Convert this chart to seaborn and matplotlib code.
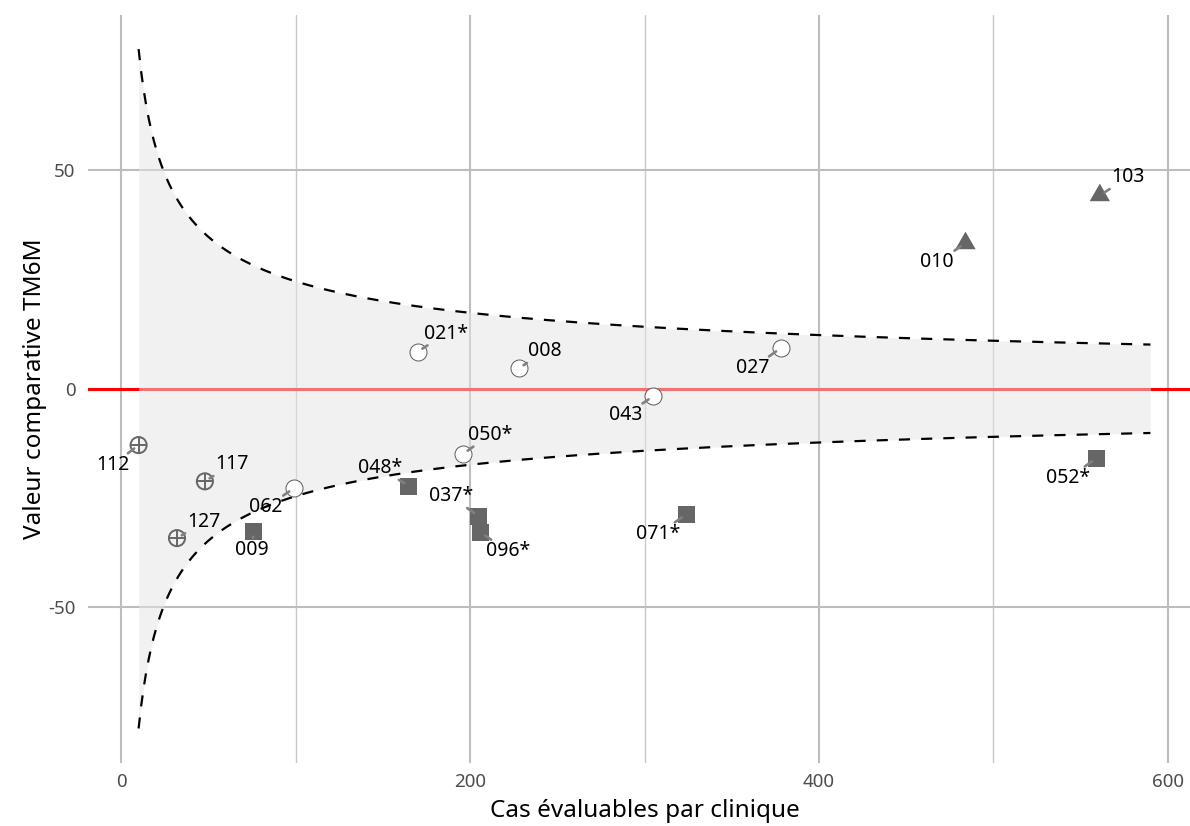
import numpy as np
import pandas as pd
import matplotlib
matplotlib.use("Agg")
import matplotlib.pyplot as plt
from matplotlib.path import Path
import seaborn as sns

# Données par clinique
cliniques = ["112", "117", "127", "062", "009", "048*", "050*", "037*", "096*",
             "071*", "021*", "008", "043", "027", "010", "103", "052*"]
cas = [10, 48, 32, 99, 76, 165, 196, 205, 206, 324, 170, 228, 305, 378, 484, 561, 559]
valeurs = [-12.9, -21.2, -34.2, -22.8, -32.6, -22.3, -14.9, -29.2, -32.9, -28.7,
           8.5, 4.7, -1.7, 9.3, 33.3, 44.3, -15.9]
statut = ["petit", "petit", "petit", "dans", "bas", "bas", "dans", "bas", "bas",
          "bas", "dans", "dans", "dans", "dans", "haut", "haut", "bas"]

# Limites de contrôle de l'entonnoir : +/- coef / sqrt(n)
coef_limite = 246
n_min, n_max = 10, 590

df = pd.DataFrame({"clinique": cliniques, "cas": cas, "valeur": valeurs, "statut": statut})

n = np.linspace(n_min, n_max, 400)
lim_haut = coef_limite / np.sqrt(n)
funnel = pd.DataFrame({"n": n, "haut": lim_haut, "bas": -lim_haut})

sns.set_theme(style="whitegrid")
plt.rcParams["font.family"] = ["Noto Sans", "DejaVu Sans"]
plt.rcParams["axes.unicode_minus"] = False

fig = plt.figure(figsize=(11.9, 8.26), dpi=100)
ax = fig.add_axes([88 / 1190, 1 - 763 / 826, (1201 - 88) / 1190, (763 - 15) / 826])

ax.set_xlim(-19, 619)
ax.set_ylim(-85.7, 85.6)

# Grille
ax.set_xticks([0, 200, 400, 600])
ax.set_xticks([100, 300, 500], minor=True)
ax.set_yticks([-50, 0, 50])
ax.grid(True, which="major", color="#BDBDBD", linewidth=1.5)
ax.grid(True, which="minor", axis="x", color="#C8C8C8", linewidth=1.0)
ax.set_axisbelow(True)
for s in ax.spines.values():
    s.set_visible(False)
ax.tick_params(axis="both", which="both", length=0, labelsize=13.5, labelcolor="#4D4D4D")
ax.tick_params(axis="x", pad=7)
ax.tick_params(axis="y", pad=9)

# Ligne de référence
ax.axhline(0, color="#FF0000", linewidth=2.2, zorder=1)

# Zone entre les limites
ax.fill_between(funnel["n"], funnel["bas"], funnel["haut"], color="#E5E5E5", alpha=0.5,
                linewidth=0, zorder=2)
sns.lineplot(data=funnel, x="n", y="haut", ax=ax, color="black", linewidth=1.6,
             linestyle=(0, (5, 5)), zorder=3)
sns.lineplot(data=funnel, x="n", y="bas", ax=ax, color="black", linewidth=1.6,
             linestyle=(0, (5, 5)), zorder=3)

gris = "#666666"
triangle = Path([(0, 1), (-0.866, -0.5), (0.866, -0.5), (0, 1)],
                [Path.MOVETO, Path.LINETO, Path.LINETO, Path.CLOSEPOLY])

sns.scatterplot(data=df[df.statut == "bas"], x="cas", y="valeur", ax=ax, marker="s",
                s=150, color=gris, edgecolor="none", linewidth=0, zorder=4)
sns.scatterplot(data=df[df.statut == "haut"], x="cas", y="valeur", ax=ax, marker=triangle,
                s=285, color=gris, edgecolor="none", linewidth=0, zorder=4)
sns.scatterplot(data=df[df.statut == "dans"], x="cas", y="valeur", ax=ax, marker="o",
                s=150, facecolor="white", edgecolor="#5A5A5A", linewidth=0.7, zorder=4)
sns.scatterplot(data=df[df.statut == "petit"], x="cas", y="valeur", ax=ax, marker="o",
                s=135, facecolor="none", edgecolor=gris, linewidth=1.4, zorder=4)
sns.scatterplot(data=df[df.statut == "petit"], x="cas", y="valeur", ax=ax, marker="+",
                s=135, color=gris, linewidth=1.4, zorder=4)

# Position des étiquettes (décalage en pixels)
decalages = {
    "112": (-26, -20), "117": (27, 17), "127": (27, 16), "062": (-28, -19),
    "009": (-2, -19), "048*": (-29, 18), "050*": (27, 19), "037*": (-28, 20),
    "096*": (28, -19), "071*": (-28, -20), "021*": (28, 18), "008": (26, 17),
    "043": (-28, -19), "027": (-28, -20), "010": (-29, -19), "103": (28, 18),
    "052*": (-28, -20),
}
for nom, x, y in zip(cliniques, cas, valeurs):
    dx, dy = decalages[nom]
    ax.annotate(nom, xy=(x, y), xytext=(dx, dy), textcoords="offset pixels",
                ha="center", va="center", fontsize=14, color="black", zorder=6,
                bbox=dict(boxstyle="square,pad=0.05", fc="none", ec="none"),
                arrowprops=dict(arrowstyle="-", color="#808080", lw=1.9,
                                shrinkA=1, shrinkB=4))

ax.set_xlabel("Cas évaluables par clinique", fontsize=17.5, color="black", labelpad=6)
ax.set_ylabel("Valeur comparative TM6M", fontsize=17.5, color="black", labelpad=1)

fig.savefig("out.png", dpi=100)
